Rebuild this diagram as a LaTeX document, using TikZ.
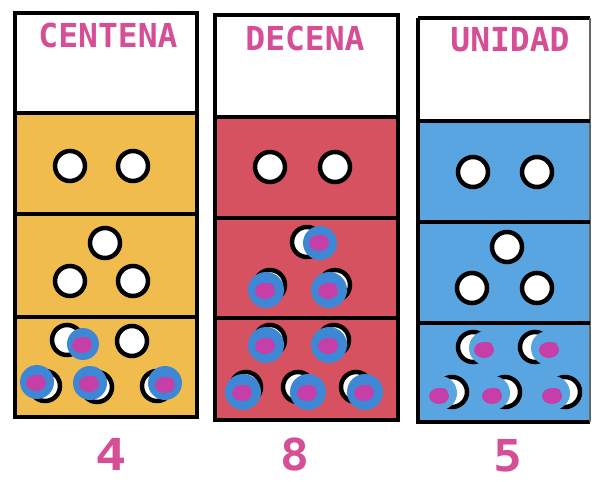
\documentclass[tikz,border=0pt]{standalone}
\usepackage{fontspec}
\usepackage{graphicx}
\newfontfamily\pixfont{DejaVu Sans Mono}
\definecolor{yellowbg}{RGB}{240,188,78}
\definecolor{redbg}{RGB}{214,82,96}
\definecolor{bluebg}{RGB}{88,165,225}
\definecolor{pinktxt}{RGB}{214,78,150}
\definecolor{blobblue}{RGB}{62,135,212}
\definecolor{blobmag}{RGB}{198,62,168}
\tikzset{
  dot/.style={circle, draw=black, line width=4.5pt, fill=white, minimum size=30pt, inner sep=0pt},
  frame/.style={draw=black, line width=4.5pt},
  head/.style={text=pinktxt, font=\pixfont\bfseries\fontsize{33}{33}\selectfont, inner sep=0pt},
  digit/.style={text=pinktxt, font=\pixfont\bfseries\fontsize{40}{40}\selectfont, inner sep=0pt}
}
% ring-coloured cover with magenta centre
\newcommand{\blobat}[6]{% x y ringcolour ringradius magx magy
  \fill[#3] (#1,#2) circle (#4);
  \fill[blobmag] (#5,#6) ellipse (10 and 8);
  \fill[blobmag] (#5+4,#6-3) circle (5);
}
\begin{document}
\begin{tikzpicture}[x=1pt,y=-1pt]
\useasboundingbox (0,0) rectangle (592,482);
\fill[white] (0,0) rectangle (592,482);
% ---------- column fills
\fill[white] (15,13) rectangle (197,113);
\fill[yellowbg] (15,113) rectangle (197,417);
\fill[white] (215,15) rectangle (398,117);
\fill[redbg] (215,117) rectangle (398,420);
\fill[white] (418,18) rectangle (590,121);
\fill[bluebg] (418,121) rectangle (590,422);
% ---------- headers
\node[head] (hc) at (108,35) {CENTENA};
\node[head] (hd) at (305,38) {DECENA};
\node[head] (hu) at (510,40) {UNIDAD};
% ---------- column 1 (centena)
\node[dot] (c11) at (70,166) {};
\node[dot] (c12) at (133,166) {};
\node[dot] (c21) at (105,243) {};
\node[dot] (c22) at (70,281) {};
\node[dot] (c23) at (133,281) {};
\node[dot] (c31) at (67,340) {};
\blobat{83}{344}{blobblue}{16}{82}{345}
\node[dot] (c32) at (132,341) {};
\node[dot] (c33) at (45,386) {};
\blobat{37}{382}{blobblue}{17}{36}{383}
\node[dot] (c34) at (97,387) {};
\blobat{90}{383}{blobblue}{17}{89}{384}
\node[dot] (c35) at (157,386) {};
\blobat{165}{383}{blobblue}{17}{165}{385}
% ---------- column 2 (decena)
\node[dot] (d11) at (270,167) {};
\node[dot] (d12) at (335,167) {};
\node[dot] (d21) at (307,242) {};
\blobat{320}{243}{blobblue}{17}{319}{243}
\node[dot] (d22) at (270,285) {};
\blobat{266}{290}{blobblue}{18}{265}{291}
\node[dot] (d23) at (335,285) {};
\blobat{329}{290}{blobblue}{18}{328}{291}
\node[dot] (d31) at (270,340) {};
\blobat{266}{345}{blobblue}{18}{265}{346}
\node[dot] (d32) at (334,340) {};
\blobat{329}{345}{blobblue}{18}{328}{346}
\node[dot] (d33) at (246,387) {};
\blobat{243}{392}{blobblue}{18}{242}{393}
\node[dot] (d34) at (298,387) {};
\blobat{308}{392}{blobblue}{18}{307}{393}
\node[dot] (d35) at (356,387) {};
\blobat{365}{392}{blobblue}{18}{364}{393}
% ---------- column 3 (unidad)
\node[dot] (u11) at (473,172) {};
\node[dot] (u12) at (537,172) {};
\node[dot] (u21) at (507,247) {};
\node[dot] (u22) at (472,288) {};
\node[dot] (u23) at (537,288) {};
\node[dot] (u31) at (473,347) {};
\blobat{486}{348}{bluebg}{17}{484}{350}
\node[dot] (u32) at (535,347) {};
\blobat{548}{348}{bluebg}{17}{549}{350}
\node[dot] (u33) at (452,392) {};
\blobat{440}{393}{bluebg}{17}{439}{396}
\node[dot] (u34) at (505,392) {};
\blobat{493}{393}{bluebg}{17}{492}{396}
\node[dot] (u35) at (565,392) {};
\blobat{553}{393}{bluebg}{17}{552}{396}
% ---------- frames
\draw[frame] (15,13) rectangle (197,417);
\draw[frame] (15,113) -- (197,113);
\draw[frame] (15,214) -- (197,214);
\draw[frame] (15,317) -- (197,317);
\draw[frame] (215,15) rectangle (398,420);
\draw[frame] (215,117) -- (398,117);
\draw[frame] (215,218) -- (398,218);
\draw[frame] (215,318) -- (398,318);
\draw[frame] (418,18) -- (590,18);
\draw[frame] (418,18) -- (418,422) -- (590,422);
\draw[black!60, line width=1.5pt] (590,18) -- (590,422);
\draw[frame] (418,121) -- (590,121);
\draw[frame] (418,222) -- (590,222);
\draw[frame] (418,323) -- (590,323);
% ---------- digits
\node[digit] (n4) at (111,454) {\scalebox{1.3}[1.1]{4}};
\node[digit] (n8) at (295,454) {\scalebox{1.2}[1.1]{8}};
\node[digit] (n5) at (508,456) {\scalebox{1.2}[1.1]{5}};
\end{tikzpicture}
\end{document}
